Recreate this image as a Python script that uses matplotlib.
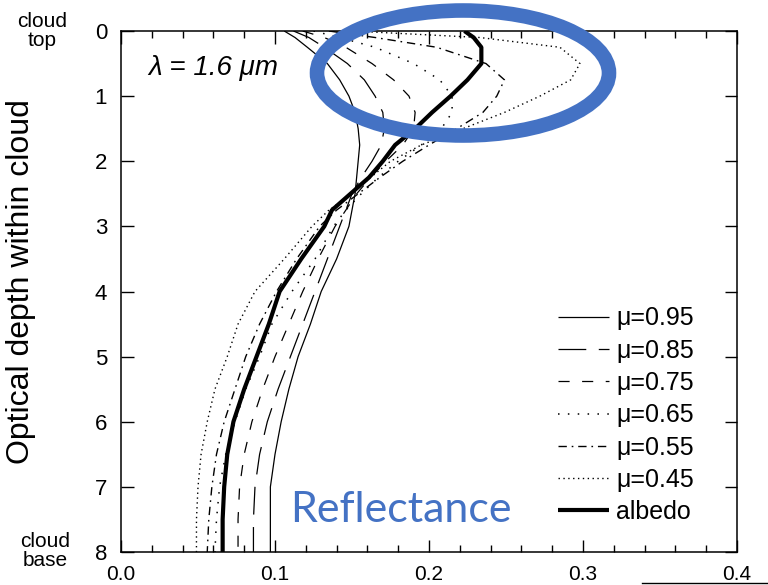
import matplotlib
matplotlib.use("Agg")
import matplotlib.pyplot as plt
from matplotlib.patches import Ellipse
from matplotlib.lines import Line2D
from matplotlib.ticker import MultipleLocator

plt.rcParams['font.family'] = ['Liberation Sans', 'DejaVu Sans']
plt.rcParams['lines.scale_dashes'] = False

# ---- data ----
tau = [0, 0.1, 0.25, 0.5, 0.75, 1.0, 1.25, 1.5, 1.75, 2.0, 2.25, 2.5, 2.75, 3.0,
       3.5, 4.0, 4.5, 5.0, 5.5, 6.0, 6.5, 7.0, 7.5, 8.0]
mu095 = [0.106, 0.113, 0.121, 0.134, 0.142, 0.148, 0.152, 0.154, 0.155, 0.154, 0.153, 0.152,
         0.150, 0.148, 0.140, 0.130, 0.123, 0.115, 0.109, 0.104, 0.100, 0.097, 0.097, 0.097]
mu085 = [0.112, 0.122, 0.132, 0.147, 0.158, 0.165, 0.170, 0.171, 0.169, 0.163, 0.156, 0.150,
         0.146, 0.142, 0.134, 0.126, 0.118, 0.110, 0.102, 0.095, 0.090, 0.087, 0.086, 0.086]
mu075 = [0.118, 0.132, 0.146, 0.163, 0.177, 0.187, 0.191, 0.190, 0.183, 0.172, 0.162, 0.153,
         0.146, 0.139, 0.128, 0.118, 0.109, 0.100, 0.092, 0.085, 0.080, 0.077, 0.076, 0.076]
mu065 = [0.125, 0.142, 0.165, 0.190, 0.207, 0.215, 0.215, 0.208, 0.195, 0.180, 0.167, 0.156,
         0.146, 0.138, 0.126, 0.111, 0.098, 0.090, 0.081, 0.074, 0.068, 0.064, 0.062, 0.061]
mu055 = [0.135, 0.165, 0.205, 0.237, 0.249, 0.244, 0.235, 0.218, 0.200, 0.183, 0.168, 0.154,
         0.140, 0.129, 0.114, 0.101, 0.090, 0.081, 0.074, 0.067, 0.062, 0.059, 0.057, 0.056]
mu045 = [0.150, 0.233, 0.285, 0.298, 0.292, 0.272, 0.249, 0.222, 0.195, 0.175, 0.162, 0.150,
         0.135, 0.124, 0.106, 0.087, 0.076, 0.069, 0.061, 0.056, 0.052, 0.050, 0.049, 0.049]
albedo = [0.223, 0.229, 0.234, 0.234, 0.225, 0.214, 0.202, 0.191, 0.178, 0.170, 0.161, 0.149,
          0.137, 0.132, 0.117, 0.103, 0.096, 0.088, 0.080, 0.073, 0.069, 0.067, 0.066, 0.066]
labels = ['μ=0.95', 'μ=0.85', 'μ=0.75', 'μ=0.65', 'μ=0.55', 'μ=0.45', 'albedo']
xticks = [0.0, 0.1, 0.2, 0.3, 0.4]
yticks = [0, 1, 2, 3, 4, 5, 6, 7, 8]

series = [mu095, mu085, mu075, mu065, mu055, mu045, albedo]
styles = [
    dict(ls='-', lw=0.9),
    dict(ls=(0, (20, 9)), lw=0.9),
    dict(ls=(0, (8, 9)), lw=0.9),
    dict(ls=(0, (1.1, 6)), lw=1.1),
    dict(ls=(0, (6, 3.5, 1.2, 3.5)), lw=1.0),
    dict(ls=(0, (1, 2.5)), lw=1.0),
    dict(ls='-', lw=3.0),
]

fig = plt.figure(figsize=(7.68, 5.85), dpi=100)
ax = fig.add_axes([121/768, 1-552/585, (737-121)/768, (552-31)/585])

for vals, lab, st in zip(series, labels, styles):
    ax.plot(vals, tau, color='black', label=lab, solid_capstyle='butt', **st)

ax.set_xlim(0, 0.4)
ax.set_ylim(8, 0)
ax.set_xticks(xticks)
ax.set_xticklabels(['0.0', '0.1', '0.2', '0.3', '0.4'])
ax.xaxis.set_minor_locator(MultipleLocator(0.02))
ax.set_yticks(yticks)
ax.tick_params(axis='both', which='major', direction='in', length=9, width=1,
               labelsize=16, top=True, right=True)
ax.tick_params(axis='x', which='minor', direction='in', length=5, width=1, top=True)
ax.tick_params(axis='y', which='major', pad=10)
ax.tick_params(axis='x', which='major', pad=9, labelsize=15)
for sp in ax.spines.values():
    sp.set_linewidth(1.1)

ax.set_ylabel('Optical depth within cloud', fontsize=23)
ax.yaxis.set_label_coords(-0.138, 0.52)

fig.text(42/768, 1-31/585, 'cloud\ntop', ha='center', va='center', fontsize=15,
         linespacing=0.95)
fig.text(45/768, 1-551/585, 'cloud\nbase', ha='center', va='center', fontsize=15,
         linespacing=0.95)

ax.text(148/768, 1-68/585, 'λ = 1.6 μm', transform=fig.transFigure, fontsize=20,
        style='italic', ha='left', va='center')

leg = ax.legend(loc='lower right', bbox_to_anchor=(1-(737-694)/616, (552-524)/521),
                frameon=False, fontsize=18, handlelength=2.05, handletextpad=0.28,
                labelspacing=0.33, borderpad=0, borderaxespad=0)

# blue highlight ellipse and annotation
ell = Ellipse((463/768, 1-73/585), 292/768, 125/585, transform=fig.transFigure,
              fill=False, edgecolor='#4472C4', linewidth=10.5)
fig.add_artist(ell)
fig.text(401/768, 1-510/585, 'Reflectance', color='#4472C4', fontsize=31,
         family=['Lato', 'DejaVu Sans'], ha='center', va='center')

fig.add_artist(Line2D([642/768, 767/768], [1-583/585, 1-583/585], color='black',
                      lw=1.0, transform=fig.transFigure))

fig.savefig('out.png', dpi=100)
